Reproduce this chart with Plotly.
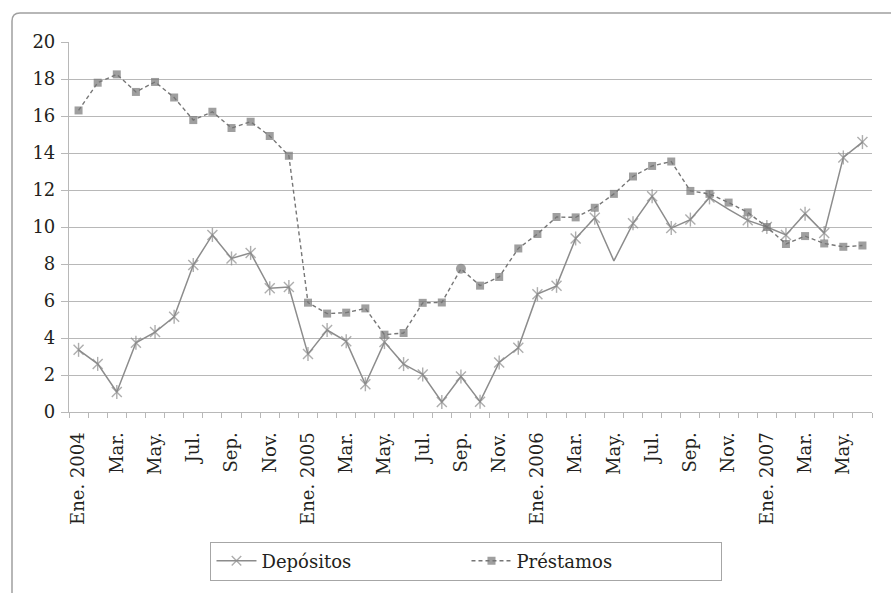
import plotly.graph_objects as go

# Monthly series, Ene. 2004 - Jun. 2007
months = ["Ene. 2004", "Feb.", "Mar.", "Abr.", "May.", "Jun.", "Jul.", "Ago.", "Sep.", "Oct.", "Nov.", "Dic.",
          "Ene. 2005", "Feb.", "Mar.", "Abr.", "May.", "Jun.", "Jul.", "Ago.", "Sep.", "Oct.", "Nov.", "Dic.",
          "Ene. 2006", "Feb.", "Mar.", "Abr.", "May.", "Jun.", "Jul.", "Ago.", "Sep.", "Oct.", "Nov.", "Dic.",
          "Ene. 2007", "Feb.", "Mar.", "Abr.", "May.", "Jun."]

depositos = [3.36, 2.6, 1.08, 3.74, 4.32, 5.15, 7.94, 9.57, 8.3, 8.6, 6.69, 6.76,
             3.13, 4.43, 3.82, 1.5, 3.78, 2.59, 2.03, 0.54, 1.92, 0.56, 2.68, 3.47,
             6.37, 6.82, 9.38, 10.5, 8.17, 10.2, 11.66, 9.94, 10.4, 11.6, 10.95, 10.36,
             10.0, 9.57, 10.72, 9.67, 13.76, 14.59]

prestamos = [16.3, 17.8, 18.25, 17.3, 17.84, 17.0, 15.78, 16.23, 15.35, 15.69, 14.92, 13.85,
             5.91, 5.32, 5.37, 5.6, 4.18, 4.27, 5.9, 5.92, 7.74, 6.83, 7.3, 8.84,
             9.62, 10.54, 10.52, 11.04, 11.79, 12.73, 13.3, 13.54, 11.95, 11.79, 11.32, 10.79,
             10.0, 9.08, 9.51, 9.11, 8.93, 9.0]

# months whose deposit marker is not drawn
dep_no_marker = [28, 34]
# month drawn with a round marker in the loans series
pre_round = [20]

y_ticks = [0, 2, 4, 6, 8, 10, 12, 14, 16, 18, 20]

FONT = "DejaVu Serif"
TEXT = "#231f20"
GRID = "#b8b8b8"
DEP_C = "#8c8c8c"
PRE_C = "#767676"

n = len(months)
xs = list(range(n))
label_idx = list(range(0, n, 2))

dep_sizes = [0 if i in dep_no_marker else 10 for i in xs]
pre_symbols = ["circle" if i in pre_round else "square" for i in xs]
pre_sizes = [10 if i in pre_round else 8 for i in xs]

fig = go.Figure()

fig.add_trace(go.Scatter(
    x=xs, y=depositos, name="Depósitos", mode="lines+markers",
    line=dict(color=DEP_C, width=1.5),
    marker=dict(symbol="x-thin-open", size=dep_sizes,
                line=dict(color=DEP_C, width=1.4), color=DEP_C),
))
# vertical stroke that turns the x marker into a six-arm star
fig.add_trace(go.Scatter(
    x=xs, y=depositos, mode="markers", showlegend=False, hoverinfo="skip",
    marker=dict(symbol="line-ns-open", size=dep_sizes,
                line=dict(color=DEP_C, width=1.4), color=DEP_C),
))
fig.add_trace(go.Scatter(
    x=xs, y=prestamos, name="Préstamos", mode="lines+markers",
    line=dict(color=PRE_C, width=1.4, dash="4px,3px"),
    marker=dict(symbol=pre_symbols, size=pre_sizes, color=PRE_C,
                line=dict(width=0)),
))

W, H = 891, 593
L, R, T, B = 69, 19, 42, 181
pw, ph = W - L - R, H - T - B

def px_x(p):
    return (p - L) / pw

def px_y(p):
    return (H - B - p) / ph

# outer chart frame with a rounded top-left corner
x0, yt = px_x(12), px_y(13)
yb, xr = px_y(620), px_x(920)
rx, ry = 8 / pw, 8 / ph
frame_path = (f"M {x0},{yb} L {x0},{yt - ry} Q {x0},{yt} {x0 + rx},{yt} L {xr},{yt}")

fig.update_layout(
    width=W, height=H,
    margin=dict(l=L, r=R, t=T, b=B),
    paper_bgcolor="white", plot_bgcolor="white",
    font=dict(family=FONT, size=18, color=TEXT),
    showlegend=True,
    legend=dict(
        orientation="h", x=0.495, xanchor="center", y=-0.35, yanchor="top",
        bordercolor="#a6a6a6", borderwidth=1, bgcolor="white",
        font=dict(family=FONT, size=18, color=TEXT),
        entrywidth=200, itemwidth=40,
    ),
    shapes=[dict(type="path", xref="paper", yref="paper", path=frame_path,
                 line=dict(color="#a0a0a0", width=1.5), layer="below")],
)

fig.update_xaxes(
    range=[-0.5, n - 0.5],
    tickmode="array", tickvals=label_idx,
    ticktext=[months[i] for i in label_idx],
    tickangle=-90, ticks="outside", ticklen=5, tickcolor="rgba(0,0,0,0)",
    ticklabelstandoff=7,
    minor=dict(tickmode="array", tickvals=[i - 0.5 for i in range(n + 1)],
               ticks="outside", ticklen=5, tickcolor=GRID, tickwidth=1.2,
               showgrid=False),
    showgrid=False, zeroline=False,
    showline=True, linecolor=GRID, linewidth=1.2,
    tickfont=dict(family=FONT, size=18, color=TEXT),
)
fig.update_yaxes(
    range=[0, 20], tickmode="array", tickvals=y_ticks,
    ticks="outside", ticklen=7, tickcolor=GRID, tickwidth=1.2,
    ticklabelstandoff=2,
    showgrid=True, gridcolor=GRID, gridwidth=1.2, zeroline=False,
    showline=True, linecolor=GRID, linewidth=1.2,
    tickfont=dict(family=FONT, size=18, color=TEXT),
)

fig.write_html("out.html")
